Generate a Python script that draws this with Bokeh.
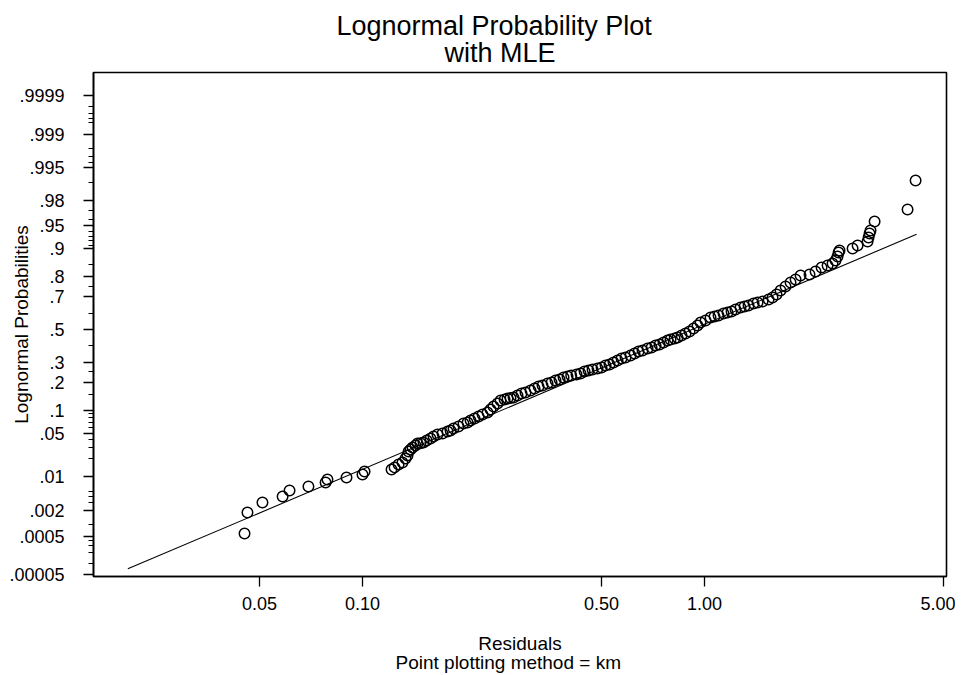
import math
from statistics import NormalDist
from bokeh.plotting import figure
from bokeh.models import (FixedTicker, CustomJSTickFormatter, Range1d, Title,
                          ColumnDataSource)
from bokeh.embed import file_html
from bokeh.resources import INLINE

# ---------------- data ----------------
residuals = [
    0.0452, 0.0461, 0.0510, 0.0584, 0.0612, 0.0695, 0.0780, 0.0790, 0.0898, 0.1000,
    0.1014, 0.1216, 0.1241, 0.1275, 0.1309, 0.1336, 0.1354, 0.1364,
    0.1382, 0.1401, 0.1429, 0.1449, 0.1478, 0.1508, 0.1541, 0.1581, 0.1614, 0.1657,
    0.1714, 0.1773, 0.1809, 0.1846, 0.1909, 0.1974, 0.2029, 0.2070, 0.2127, 0.2185,
    0.2244, 0.2321, 0.2368, 0.2416, 0.2482, 0.2533, 0.2603, 0.2655, 0.2709, 0.2765,
    0.2840, 0.2918, 0.2997, 0.3100, 0.3185, 0.3272, 0.3361, 0.3476, 0.3571, 0.3668,
    0.3769, 0.3872, 0.3977, 0.4076, 0.4225, 0.4340, 0.4460, 0.4581, 0.4706, 0.4866,
    0.5000, 0.5137, 0.5277, 0.5421, 0.5569, 0.5721, 0.5877, 0.6078, 0.6244, 0.6415,
    0.6590, 0.6816, 0.7002, 0.7193, 0.7389, 0.7591, 0.7798, 0.7957, 0.8175, 0.8341,
    0.8568, 0.8802, 0.9042, 0.9289, 0.9543, 0.9738, 1.0071, 1.0415, 1.0700, 1.0992,
    1.1368, 1.1679, 1.1997, 1.2325, 1.2746, 1.3094, 1.3452, 1.3913, 1.4293, 1.4785,
    1.5393, 1.5811, 1.6243, 1.6686, 1.7257, 1.7848, 1.8462, 1.9094,
    2.028, 2.112, 2.199, 2.290, 2.368, 2.416, 2.449, 2.466, 2.482, 2.710,
    2.803, 2.998, 3.018, 3.038, 3.058, 3.143, 3.924, 4.142,
]
probabilities = [
    0.00060, 0.00184, 0.00302, 0.00401, 0.00530, 0.00635, 0.00757, 0.00863, 0.00941, 0.01067,
    0.0121, 0.0131, 0.0143, 0.0161, 0.0174, 0.0203, 0.0228, 0.0264,
    0.0284, 0.0305, 0.0328, 0.0352, 0.0356, 0.0364, 0.0390, 0.0418, 0.0448, 0.0478,
    0.0494, 0.0527, 0.0545, 0.0581, 0.0618, 0.0679, 0.0700, 0.0744, 0.0789, 0.0836,
    0.0887, 0.0940, 0.1020, 0.1109, 0.1200, 0.1299, 0.1334, 0.1368, 0.1380, 0.1403,
    0.1473, 0.1548, 0.1587, 0.1665, 0.1744, 0.1827, 0.1870, 0.1957, 0.2002, 0.2090,
    0.2136, 0.2231, 0.2279, 0.2327, 0.2376, 0.2426, 0.2524, 0.2576, 0.2628, 0.2680,
    0.2732, 0.2840, 0.2891, 0.3001, 0.3114, 0.3228, 0.3285, 0.3398, 0.3516, 0.3635,
    0.3696, 0.3813, 0.3874, 0.3997, 0.4059, 0.4184, 0.4305, 0.4368, 0.4431, 0.4495,
    0.4622, 0.4749, 0.4872, 0.5063, 0.5252, 0.5442, 0.5568, 0.5755, 0.5817, 0.5880,
    0.6003, 0.6064, 0.6125, 0.6245, 0.6365, 0.6425, 0.6484, 0.6601, 0.6659, 0.6716,
    0.6830, 0.6943, 0.7107, 0.7320, 0.7527, 0.7722, 0.7864, 0.8043,
    0.8088, 0.8215, 0.8375, 0.8452, 0.8527, 0.8632, 0.8768, 0.8891, 0.8951, 0.9008,
    0.9087, 0.9188, 0.9279, 0.9363, 0.9419, 0.9567, 0.9716, 0.9910,
]

# MLE lognormal fit (log-scale location and scale) and drawn extent of the fit line
mle_mu = -0.083
mle_sigma = 1.0
fit_line_residuals = [0.0206, 4.17]

y_tick_probs = [0.00005, 0.0005, 0.002, 0.01, 0.05, 0.1, 0.2, 0.3, 0.5, 0.7,
                0.8, 0.9, 0.95, 0.98, 0.995, 0.999, 0.9999]
y_tick_labels = [".00005", ".0005", ".002", ".01", ".05", ".1", ".2", ".3", ".5", ".7",
                 ".8", ".9", ".95", ".98", ".995", ".999", ".9999"]
y_minor_probs = [0.0001, 0.0002, 0.0003, 0.0004, 0.001, 0.003, 0.004, 0.005,
                 0.02, 0.03, 0.04, 0.06, 0.07, 0.08, 0.09, 0.15, 0.25, 0.4, 0.6,
                 0.75, 0.85, 0.91, 0.92, 0.93, 0.94, 0.96, 0.97, 0.99, 0.996,
                 0.997, 0.998, 0.9995, 0.9996, 0.9997, 0.9998]
x_ticks = [0.05, 0.10, 0.50, 1.00, 5.00]
x_tick_labels = ["0.05", "0.10", "0.50", "1.00", "5.00"]

title_lines = ["Lognormal Probability Plot", "with MLE"]
y_title = "Lognormal Probabilities"
x_title_lines = ["Residuals", "Point plotting method = km"]

# ---------------- transforms ----------------
probit = NormalDist().inv_cdf

assert len(residuals) == len(probabilities)
src = ColumnDataSource(dict(x=residuals, z=[probit(q) for q in probabilities]))
fit_src = ColumnDataSource(dict(
    x=fit_line_residuals,
    z=[(math.log(r) - mle_mu) / mle_sigma for r in fit_line_residuals]))

FONT = "Liberation Sans"

p = figure(width=955, height=675, x_axis_type="log",
           x_range=Range1d(0.01635, 5.10), y_range=Range1d(-3.921, 4.079),
           output_backend="svg", toolbar_location=None,
           min_border_left=93, min_border_right=9, min_border_top=72,
           min_border_bottom=99)
p.grid.visible = False
p.outline_line_color = "black"
p.outline_line_width = 1.6
p.background_fill_color = "white"
p.border_fill_color = "white"

p.line("x", "z", source=fit_src, line_color="black", line_width=1.1)
p.scatter("x", "z", source=src, marker="circle", size=10.5,
          fill_color=None, line_color="black", line_width=1.5)

# y axis (probit scale with probability labels)
yax = p.yaxis[0]
yax.ticker = FixedTicker(ticks=[probit(q) for q in y_tick_probs],
                         minor_ticks=[probit(q) for q in y_minor_probs])
yax.formatter = CustomJSTickFormatter(
    args=dict(zs=[probit(q) for q in y_tick_probs], labs=y_tick_labels),
    code="""
    let best = 0, bd = 1e9;
    for (let i = 0; i < zs.length; i++) {
        const d = Math.abs(zs[i] - tick);
        if (d < bd) { bd = d; best = i; }
    }
    return labs[best];
""")
yax.major_tick_out = 10
yax.major_tick_in = 0
yax.minor_tick_out = 5
yax.minor_tick_in = 0
yax.major_label_standoff = 19
yax.axis_label = y_title
yax.axis_label_text_font_size = "19px"
yax.axis_label_standoff = -26

# x axis (log)
xax = p.xaxis[0]
xax.ticker = FixedTicker(ticks=x_ticks, minor_ticks=[])
xax.formatter = CustomJSTickFormatter(
    args=dict(vs=x_ticks, labs=x_tick_labels),
    code="""
    let best = 0, bd = 1e9;
    for (let i = 0; i < vs.length; i++) {
        const d = Math.abs(Math.log(vs[i]) - Math.log(tick));
        if (d < bd) { bd = d; best = i; }
    }
    return labs[best];
""")
xax.major_tick_out = 10
xax.major_tick_in = 0
xax.major_label_standoff = 10
xax.axis_label = x_title_lines[0]
xax.axis_label_text_font_size = "19px"
xax.axis_label_standoff = 20

for ax in (xax, yax):
    ax.axis_line_color = "black"
    ax.axis_line_width = 1.6
    ax.major_tick_line_color = "black"
    ax.major_tick_line_width = 1.3
    ax.minor_tick_line_color = "black"
    ax.minor_tick_line_width = 1
    ax.major_label_text_font = FONT
    ax.major_label_text_font_size = "18px"
    ax.major_label_text_color = "black"
    ax.axis_label_text_font = FONT
    ax.axis_label_text_font_style = "normal"
    ax.axis_label_text_color = "black"

# titles: first added "above" sits nearest the frame
def make_title(text, size, offset, standoff, valign="bottom"):
    return Title(text=text, align="left", offset=offset, standoff=standoff,
                 vertical_align=valign,
                 text_font=FONT, text_font_size=size, text_font_style="normal",
                 text_color="black")

p.add_layout(make_title(title_lines[1], "27px", 351, 10), "above")
p.add_layout(make_title(title_lines[0], "27px", 243, -20), "above")
p.add_layout(make_title(x_title_lines[1], "19px", 302, -10, "top"), "below")

open("out.html", "w").write(file_html(p, INLINE))
